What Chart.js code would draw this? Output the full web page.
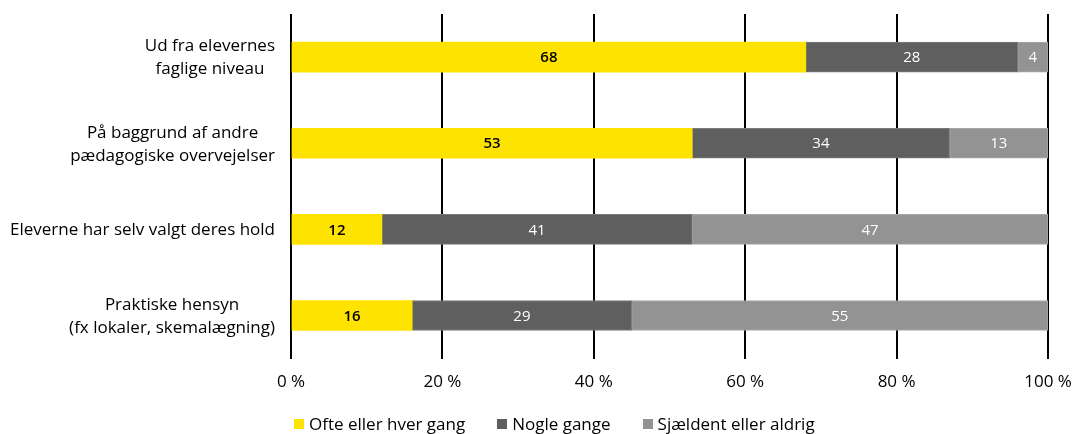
<!DOCTYPE html>
<html>
<head>
<meta charset="utf-8">
<script src="https://cdn.jsdelivr.net/npm/chart.js@4"></script>
<style>
  body { margin: 0; background: #fff; }
  #wrap { position: relative; width: 1075px; height: 434px; }
  #legend { position: absolute; left: 294px; top: 413px; display: flex; font: 17px "Open Sans", sans-serif; color: #000; line-height: 22px; }
  #legend span.item { display: flex; align-items: center; margin-right: 32px; }
  #legend span.box { display: inline-block; width: 10px; height: 10px; margin-right: 5px; }
</style>
</head>
<body>
<div id="wrap">
  <canvas id="chart" width="1075" height="434"></canvas>
  <div id="legend"></div>
</div>
<script>
// data
const categories = [
  ["Ud fra elevernes", "faglige niveau"],
  ["På baggrund af andre", "pædagogiske overvejelser"],
  ["Eleverne har selv valgt deres hold"],
  ["Praktiske hensyn", "(fx lokaler, skemalægning)"]
];
const seriesNames = ["Ofte eller hver gang", "Nogle gange", "Sjældent eller aldrig"];
const often = [68, 53, 12, 16];
const sometimes = [28, 34, 41, 29];
const rarely = [4, 13, 47, 55];
const xTicks = [0, 20, 40, 60, 80, 100];

const colors = ["#FFE300", "#5F5F5F", "#939393"];
const borders = ["#FFE300", "#7a7a7a", "#a8a8a8"];
const labelColors = ["#000", "#fff", "#fff"];
const FONT = '"Open Sans", sans-serif';

// centered multi-line labels, right-aligned block next to the axis
const yLabelPlugin = {
  id: "yLabels",
  afterDraw(chart) {
    const ctx = chart.ctx;
    const scale = chart.scales.y;
    ctx.save();
    ctx.font = "17px " + FONT;
    ctx.fillStyle = "#000";
    ctx.textAlign = "center";
    ctx.textBaseline = "middle";
    const lh = 23;
    categories.forEach((lines, i) => {
      const y = scale.getPixelForTick(i);
      const w = Math.max(...lines.map(l => ctx.measureText(l).width));
      const cx = scale.right - 16 - w / 2;
      const top = y - (lines.length - 1) * lh / 2 + 1;
      lines.forEach((l, j) => ctx.fillText(l, cx, top + j * lh));
    });
    ctx.restore();
  }
};

// value labels inside the bars
const valueLabelPlugin = {
  id: "valueLabels",
  afterDatasetsDraw(chart) {
    const ctx = chart.ctx;
    ctx.save();
    ctx.textAlign = "center";
    ctx.textBaseline = "middle";
    chart.data.datasets.forEach((ds, di) => {
      ctx.font = (di === 0 ? "600 " : "") + "15px " + FONT;
      chart.getDatasetMeta(di).data.forEach((bar, i) => {
        ctx.fillStyle = labelColors[di];
        ctx.fillText(String(ds.data[i]), (bar.x + bar.base) / 2, bar.y + 1);
      });
    });
    ctx.restore();
  }
};

const ctx = document.getElementById("chart").getContext("2d");
new Chart(ctx, {
  type: "bar",
  data: {
    labels: categories,
    datasets: [often, sometimes, rarely].map((d, i) => ({
      label: seriesNames[i],
      data: d,
      backgroundColor: colors[i],
      borderColor: borders[i],
      borderWidth: i === 0 ? 0 : 1,
      borderSkipped: false,
      barThickness: 30
    }))
  },
  options: {
    indexAxis: "y",
    responsive: false,
    animation: false,
    layout: { padding: { top: 14, bottom: 29, right: 0, left: 0 } },
    plugins: {
      legend: { display: false },
      tooltip: { enabled: false }
    },
    scales: {
      x: {
        stacked: true,
        min: 0,
        max: 100,
        afterBuildTicks(axis) { axis.ticks = xTicks.map(v => ({ value: v })); },
        afterFit(axis) { axis.paddingRight = 27; axis.paddingLeft = 0; },
        grid: { color: "#000", lineWidth: 2, tickLength: 0, drawTicks: false },
        border: { display: false },
        ticks: {
          padding: 13,
          color: "#000",
          font: { family: FONT, size: 17 },
          callback: v => v + " %"
        }
      },
      y: {
        stacked: true,
        grid: { display: false },
        border: { display: false },
        afterFit(axis) { axis.width = 291; axis.paddingTop = 0; axis.paddingBottom = 0; },
        ticks: { color: "rgba(0,0,0,0)", font: { family: FONT, size: 16 } }
      }
    }
  },
  plugins: [yLabelPlugin, valueLabelPlugin]
});

// legend
const legend = document.getElementById("legend");
seriesNames.forEach((name, i) => {
  const item = document.createElement("span");
  item.className = "item";
  const box = document.createElement("span");
  box.className = "box";
  box.style.background = colors[i];
  item.appendChild(box);
  item.appendChild(document.createTextNode(name));
  legend.appendChild(item);
});
</script>
</body>
</html>
